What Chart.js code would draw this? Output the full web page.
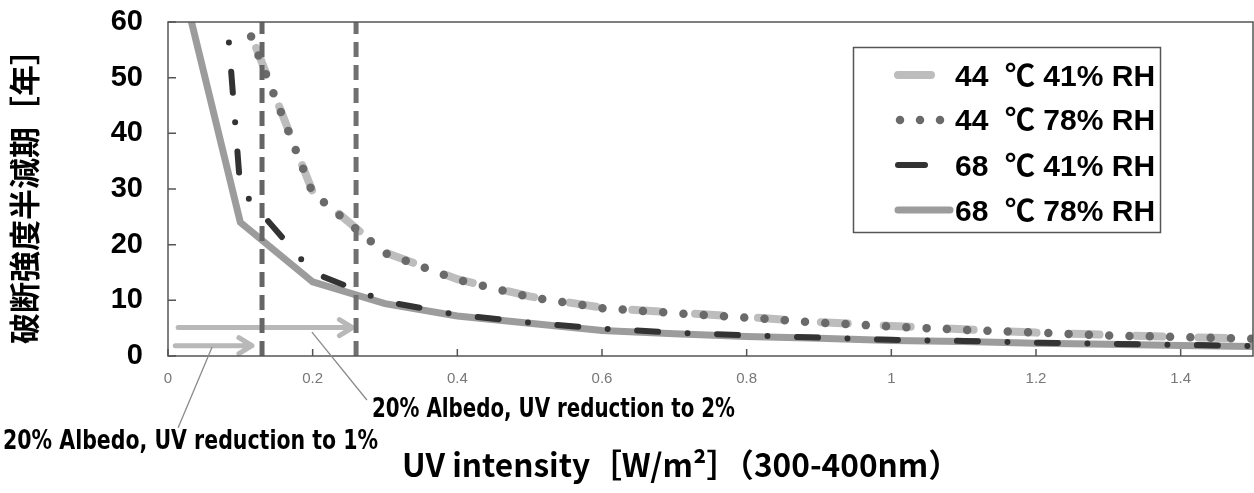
<!DOCTYPE html>
<html>
<head>
<meta charset="utf-8">
<script src="https://cdn.jsdelivr.net/npm/chart.js@4.4.0/dist/chart.umd.min.js"></script>
<style>
html, body { margin: 0; padding: 0; background: #fff; }
</style>
</head>
<body>
<canvas id="bieuDo" width="1254" height="493"></canvas>
<script>
// UV intensity [W/m2] and half-life [years]
const uvX = [0.01, 0.1, 0.2, 0.3, 0.4, 0.5, 0.6, 0.7, 0.8, 0.9, 1.0, 1.1, 1.2, 1.3, 1.4, 1.5];
const t44rh41 = [530, 62.6, 29.5, 18.6, 13.8, 10.7, 8.7, 7.8, 7.0, 6.1, 5.4, 4.8, 4.2, 3.8, 3.4, 3.1];
const t44rh78 = [520, 62.3, 29.3, 18.5, 13.7, 10.6, 8.6, 7.7, 6.9, 6.0, 5.3, 4.7, 4.2, 3.7, 3.4, 3.1];
const t68rh41 = [180, 30, 15, 9.8, 7.4, 6.0, 4.9, 4.2, 3.7, 3.3, 2.9, 2.7, 2.4, 2.2, 2.0, 1.8];
const t68rh78 = [72, 24, 13.3, 9.4, 7.2, 5.9, 4.6, 4.0, 3.5, 3.2, 2.8, 2.6, 2.3, 2.1, 1.9, 1.7];
const seriesLabels = ['44  ℃ 41% RH', '44  ℃ 78% RH', '68  ℃ 41% RH', '68  ℃ 78% RH'];

// reduction limits (vertical dashed lines) and the arrows pointing at them
const uvLimits = [0.13, 0.26];
const arrowY = [1.85, 5.1];
const arrowFrom = [0.01, 0.014];
const arrowTo = [0.116, 0.255];

const notes = ['20% Albedo, UV reduction to 1%', '20% Albedo, UV reduction to 2%'];
const noteLineFrom = [[0.061, 1.6], [0.199, 4.3]];
const noteLineTo = [[0.014, -12.9], [0.275, -7.9]];
const notePos = [[-0.228, -15.45], [0.282, -9.7]];
const noteWidth = [375, 363];

const xTitle = 'UV intensity［W/m²］（300-400nm）';
const yTitle = '破断強度半減期［年］';

function diem(xs, ys) {
    return xs.map((v, i) => ({x: v, y: ys[i]}));
}

const sampleLen = [33, 0, 27, 52];

const veThem = {
    id: 'veThem',
    beforeDatasetsDraw(chart) {
        const {ctx, scales: {x, y}} = chart;
        ctx.save();
        ctx.strokeStyle = '#b8b8b8';
        ctx.lineWidth = 5;
        ctx.lineCap = 'round';
        ctx.lineJoin = 'round';
        for (let i = 0; i < arrowY.length; i++) {
            const x0 = x.getPixelForValue(arrowFrom[i]);
            const x1 = x.getPixelForValue(arrowTo[i]);
            const yy = y.getPixelForValue(arrowY[i]);
            ctx.beginPath();
            ctx.moveTo(x0, yy);
            ctx.lineTo(x1, yy);
            ctx.moveTo(x1 - 13, yy - 8);
            ctx.lineTo(x1, yy);
            ctx.lineTo(x1 - 13, yy + 8);
            ctx.stroke();
        }
        ctx.restore();
    },
    afterDraw(chart) {
        const {ctx, chartArea: a, scales: {x, y}} = chart;
        ctx.save();
        // frame
        ctx.strokeStyle = '#555';
        ctx.lineWidth = 1.5;
        ctx.strokeRect(a.left, a.top, a.right - a.left, a.bottom - a.top);
        // inward tick marks
        ctx.beginPath();
        x.ticks.forEach(t => {
            if (Math.abs(t.value * 5 - Math.round(t.value * 5)) > 1e-6) return;
            const px = x.getPixelForValue(t.value);
            ctx.moveTo(px, a.bottom);
            ctx.lineTo(px, a.bottom - 7);
        });
        y.ticks.forEach(t => {
            const py = y.getPixelForValue(t.value);
            ctx.moveTo(a.left, py);
            ctx.lineTo(a.left + 8, py);
        });
        ctx.stroke();

        // legend box
        ctx.fillStyle = '#fff';
        ctx.fillRect(853, 47, 307, 185);
        ctx.strokeStyle = '#555';
        ctx.lineWidth = 1.5;
        ctx.strokeRect(853.5, 47.5, 307, 185);
        const rowY = [78, 122, 168, 213];
        for (let i = 0; i < 4; i++) {
            const ds = chart.data.datasets[i];
            ctx.strokeStyle = ds.borderColor;
            ctx.fillStyle = ds.borderColor;
            ctx.lineWidth = ds.borderWidth;
            ctx.lineCap = 'round';
            ctx.setLineDash([]);
            if (i === 1) {
                for (let k = 0; k < 3; k++) {
                    ctx.beginPath();
                    ctx.arc(900 + k * 20, rowY[i] - 2, ds.borderWidth / 2, 0, Math.PI * 2);
                    ctx.fill();
                }
            } else {
                ctx.beginPath();
                ctx.moveTo(898, rowY[i] - 3);
                ctx.lineTo(898 + sampleLen[i], rowY[i] - 3);
                ctx.stroke();
            }
            ctx.fillStyle = '#000';
            ctx.font = 'bold 30px "Liberation Sans", "Noto Sans CJK JP"';
            ctx.textAlign = 'left';
            ctx.textBaseline = 'middle';
            ctx.fillText(ds.label, 955, rowY[i], 203);
        }

        // notes with leader lines
        ctx.strokeStyle = '#8a8a8a';
        ctx.lineWidth = 1.3;
        ctx.lineCap = 'butt';
        for (let i = 0; i < notes.length; i++) {
            ctx.beginPath();
            ctx.moveTo(x.getPixelForValue(noteLineFrom[i][0]), y.getPixelForValue(noteLineFrom[i][1]));
            ctx.lineTo(x.getPixelForValue(noteLineTo[i][0]), y.getPixelForValue(noteLineTo[i][1]));
            ctx.stroke();
            ctx.fillStyle = '#000';
            ctx.font = 'bold 26px "Liberation Sans Narrow", "DejaVu Sans Condensed", sans-serif';
            ctx.textAlign = 'left';
            ctx.textBaseline = 'middle';
            ctx.fillText(notes[i], x.getPixelForValue(notePos[i][0]), y.getPixelForValue(notePos[i][1]), noteWidth[i]);
        }

        // x axis title
        ctx.font = 'bold 32px "Noto Sans CJK JP"';
        ctx.fillText(xTitle, 402, 465, 558);
        ctx.restore();
    }
};

function veBieuDo(id) {
    const data = {
        datasets: [{
                label: seriesLabels[0],
                data: diem(uvX, t44rh41),
                borderColor: '#bdbdbd',
                borderWidth: 8,
                borderDash: [27, 36],
                borderCapStyle: 'round',
                order: 3
            }, {
                label: seriesLabels[1],
                data: diem(uvX, t44rh78),
                borderColor: '#6a6a6a',
                borderWidth: 8.5,
                borderDash: [0, 20.3],
                borderCapStyle: 'round',
                order: 1
            }, {
                label: seriesLabels[2],
                data: diem(uvX, t68rh41),
                borderColor: '#333333',
                borderWidth: 6,
                borderDash: [21, 29.5, 0, 29.5],
                borderCapStyle: 'round',
                order: 2
            }, {
                label: seriesLabels[3],
                data: diem(uvX, t68rh78),
                borderColor: '#9c9c9c',
                borderWidth: 7,
                order: 4
            }, {
                label: 'limit 1%',
                data: [{x: uvLimits[0], y: 0}, {x: uvLimits[0], y: 60}],
                borderColor: '#656565',
                borderWidth: 5,
                borderDash: [15, 8],
                order: 0
            }, {
                label: 'limit 2%',
                data: [{x: uvLimits[1], y: 0}, {x: uvLimits[1], y: 60}],
                borderColor: '#707070',
                borderWidth: 5,
                borderDash: [15, 8],
                order: 0
            }]
    };
    data.datasets.forEach(ds => {
        ds.pointRadius = 0;
        ds.tension = 0;
        ds.fill = false;
        ds.clip = 0;
    });

    const config = {
        type: 'line',
        data: data,
        options: {
            responsive: false,
            animation: false,
            layout: {padding: {top: 22, right: 1, left: 0, bottom: 0}},
            plugins: {legend: {display: false}, tooltip: {enabled: false}},
            scales: {
                x: {
                    type: 'linear', min: 0, max: 1.5,
                    grid: {display: false, drawTicks: false},
                    border: {display: false},
                    ticks: {
                        stepSize: 0.2, padding: 14, autoSkip: false, maxRotation: 0,
                        color: '#777',
                        font: {family: '"Liberation Sans"', size: 15},
                        callback: v => Math.abs(v * 5 - Math.round(v * 5)) < 1e-6 ? String(+v.toFixed(1)) : ''
                    },
                    afterFit(s) {
                        s.height = 137;
                        s.paddingLeft = 0;
                        s.paddingRight = 0;
                    }
                },
                y: {
                    min: 0, max: 60,
                    grid: {display: false, drawTicks: false},
                    border: {display: false},
                    ticks: {
                        stepSize: 10, padding: 25, color: '#000',
                        font: {family: '"Liberation Sans"', size: 29, weight: 'bold'}
                    },
                    title: {
                        display: true, text: yTitle, color: '#000',
                        font: {family: '"Noto Sans CJK JP"', size: 31, weight: 'bold'},
                        padding: {top: 6, bottom: 0}
                    },
                    afterFit(s) {
                        s.width = 168;
                        s.paddingTop = 0;
                        s.paddingBottom = 0;
                    }
                }
            }
        },
        plugins: [veThem]
    };

    new Chart(document.getElementById(id).getContext('2d'), config);
}

veBieuDo('bieuDo');
</script>
</body>
</html>
